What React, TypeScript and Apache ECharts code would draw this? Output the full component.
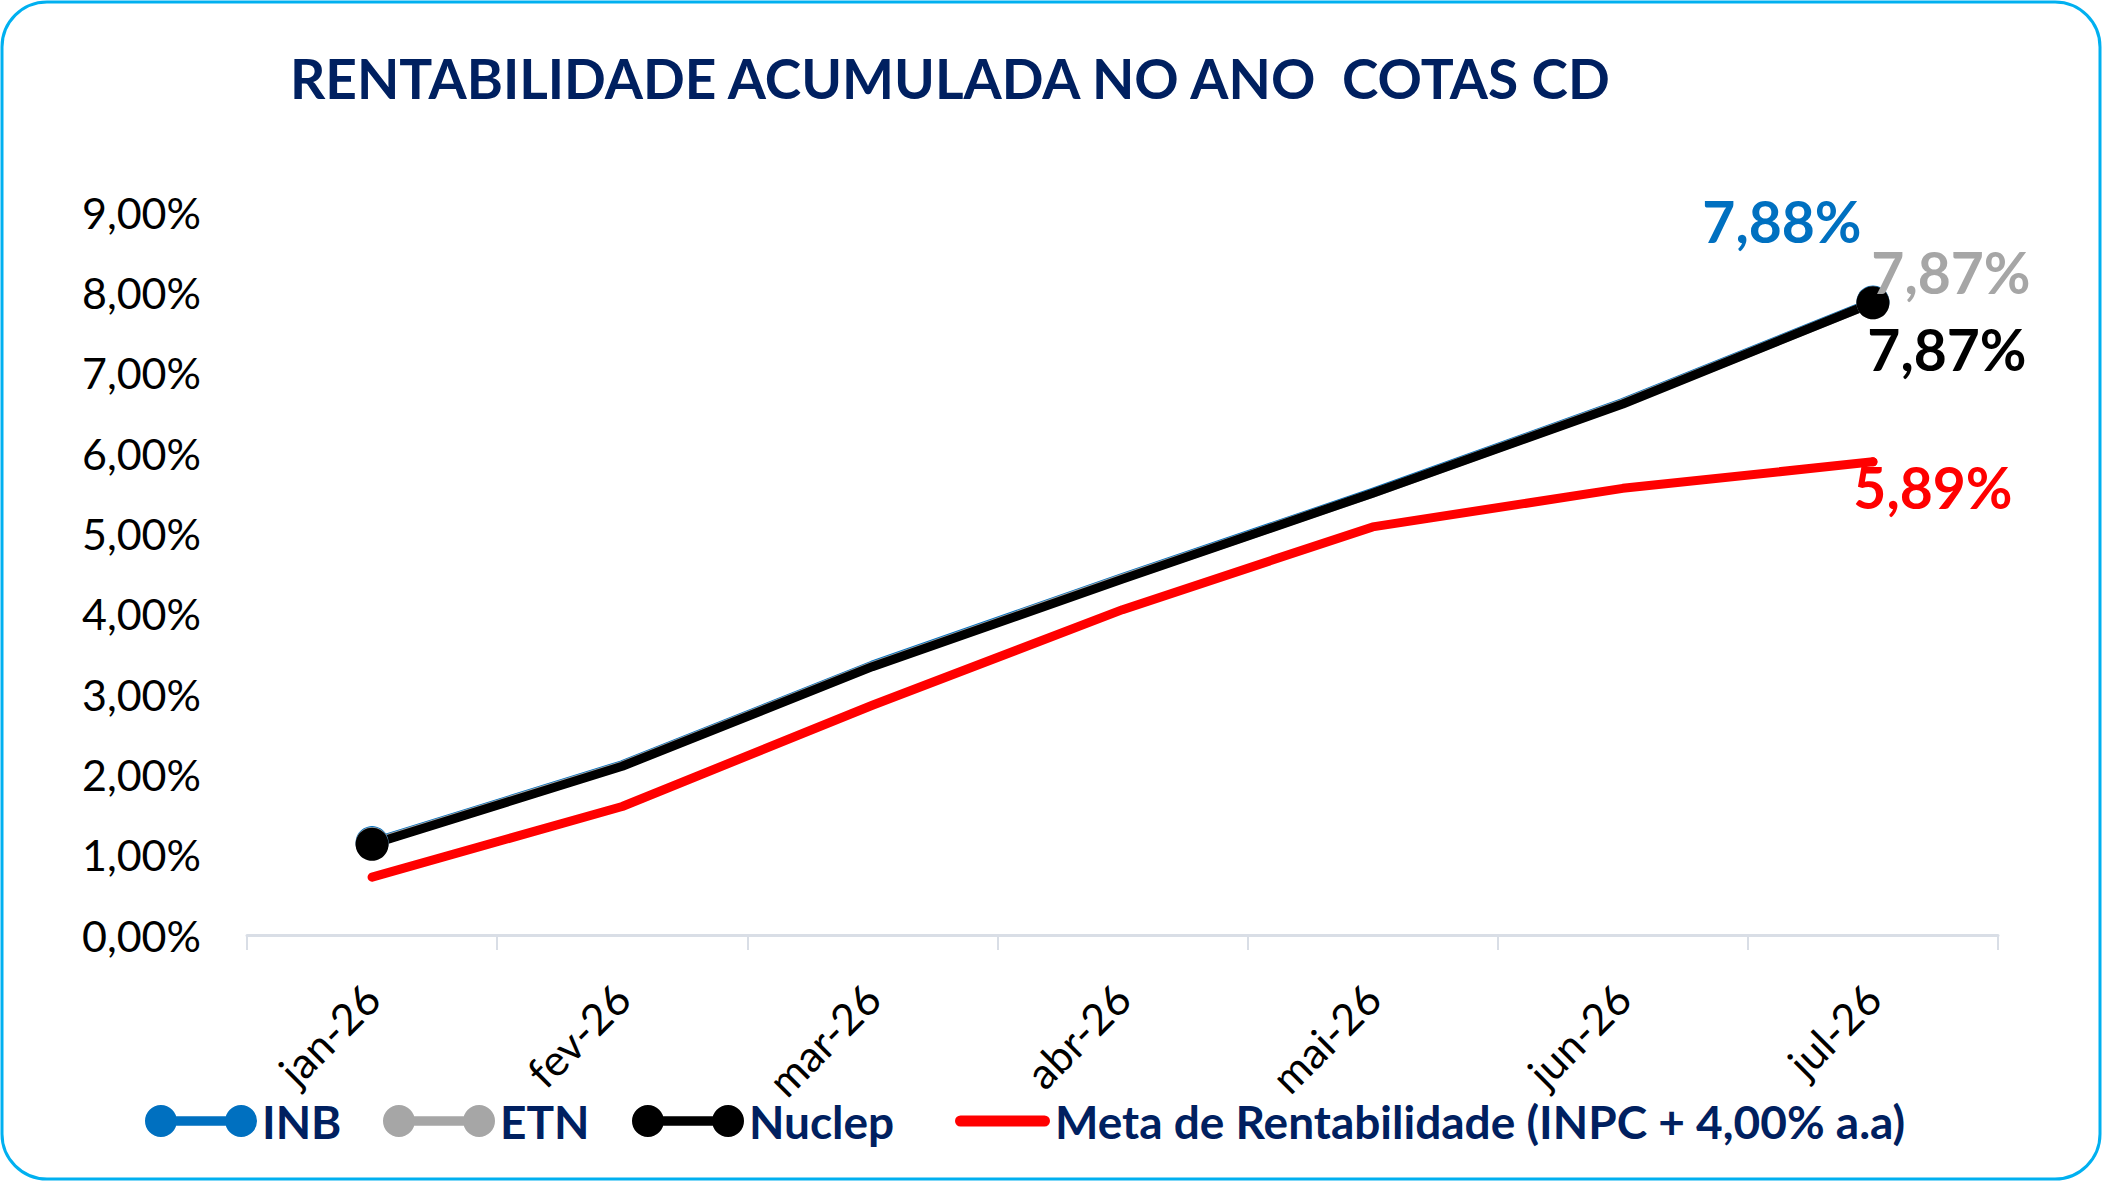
import React, { useEffect, useRef } from "react";
import * as echarts from "echarts";

const categories = ["jan-26", "fev-26", "mar-26", "abr-26", "mai-26", "jun-26", "jul-26"];
const inbValues = [1.15, 2.12, 3.36, 4.45, 5.51, 6.63, 7.88];
const etnValues = [1.14, 2.11, 3.35, 4.44, 5.5, 6.62, 7.87];
const nuclepValues = [1.13, 2.1, 3.34, 4.43, 5.5, 6.61, 7.87];
const metaValues = [0.72, 1.6, 2.86, 4.05, 5.08, 5.56, 5.89];
const yTicks = [0, 1, 2, 3, 4, 5, 6, 7, 8, 9];

const TITLE = "RENTABILIDADE ACUMULADA NO ANO  COTAS CD";
const NAVY = "#002060";
const FONT = "Lato, 'Open Sans', sans-serif";

const fmt = (v: number) => v.toFixed(2).replace(".", ",") + "%";

const DUMBBELL =
  "path://M0,16.5A16.5,16.5 0 1,1 33,16.5A16.5,16.5 0 1,1 0,16.5Z M83,16.5A16.5,16.5 0 1,1 116,16.5A16.5,16.5 0 1,1 83,16.5Z M16.5,11.5L99.5,11.5L99.5,21.5L16.5,21.5Z";
const BAR =
  "path://M5.5,0L89.5,0A5.5,5.5 0 0,1 89.5,11L5.5,11A5.5,5.5 0 0,1 5.5,0Z";

function endData(values: number[], color: string, offset: [number, number], size: number) {
  const last = values.length - 1;
  return values.map((v, i) => {
    const isEnd = i === 0 || i === last;
    const item: any = { value: v, symbol: isEnd ? "circle" : "none", symbolSize: size };
    if (i === last) {
      item.label = {
        show: true,
        position: "inside",
        offset,
        color,
        fontFamily: FONT,
        fontWeight: "bold",
        fontSize: 57,
        formatter: (p: any) => fmt(p.value),
      };
    }
    return item;
  });
}

function metaData(values: number[], color: string, offset: [number, number]) {
  const last = values.length - 1;
  return values.map((v, i) => {
    const item: any = { value: v, symbol: i === last ? "circle" : "none", symbolSize: 9 };
    if (i === last) {
      item.label = {
        show: true,
        position: "inside",
        offset,
        color,
        fontFamily: FONT,
        fontWeight: "bold",
        fontSize: 57,
        formatter: (p: any) => fmt(p.value),
      };
    }
    return item;
  });
}

function legendFor(name: string, left: number, icon: string, w: number, h: number, centerY: number) {
  return {
    data: [name],
    left,
    top: centerY - 23,
    padding: 0,
    icon,
    itemWidth: w,
    itemHeight: h,
    selectedMode: false,
    textStyle: { color: NAVY, fontFamily: FONT, fontWeight: "bold", fontSize: 46 },
  };
}

export default function App() {
  const ref = useRef<HTMLDivElement>(null);

  useEffect(() => {
    document.body.style.margin = "0";
    if (!ref.current) return;
    const chart = echarts.init(ref.current, undefined, { renderer: "svg" });
    const lineBase = (color: string) => ({
      type: "line",
      smooth: false,
      lineStyle: { color, width: 9, cap: "round", join: "round" },
      itemStyle: { color },
      emphasis: { disabled: true },
    });
    chart.setOption({
      animation: false,
      backgroundColor: "#ffffff",
      title: {
        text: TITLE,
        left: 290,
        top: 50,
        padding: 0,
        textStyle: { color: NAVY, fontFamily: FONT, fontWeight: "bold", fontSize: 55 },
      },
      graphic: [
        {
          type: "rect",
          shape: { x: 2, y: 2, width: 2098, height: 1177, r: 45 },
          style: { fill: "none", stroke: "#00B0F0", lineWidth: 3 },
          silent: true,
        },
      ],
      legend: [
        legendFor("INB", 145, DUMBBELL, 112, 32, 1121),
        legendFor("ETN", 383, DUMBBELL, 112, 32, 1121),
        legendFor("Nuclep", 632, DUMBBELL, 112, 32, 1121),
        legendFor("Meta de Rentabilidade (INPC + 4,00% a.a)", 955, BAR, 95, 11, 1121),
      ],
      grid: { left: 247, right: 105, top: 212, bottom: 247, containLabel: false },
      xAxis: {
        type: "category",
        data: categories,
        boundaryGap: true,
        axisLine: { show: true, lineStyle: { color: "#D9DEE6", width: 3 } },
        axisTick: { show: true, length: 15, interval: 0, lineStyle: { color: "#D9DEE6", width: 2 } },
        axisLabel: {
          rotate: 45,
          interval: 0,
          margin: 56,
          color: "#000000",
          fontFamily: FONT,
          fontSize: 43,
        },
        splitLine: { show: false },
      },
      yAxis: {
        type: "value",
        min: yTicks[0],
        max: yTicks[yTicks.length - 1],
        interval: 1,
        axisLine: { show: false },
        axisTick: { show: false },
        splitLine: { show: false },
        axisLabel: {
          margin: 46,
          color: "#000000",
          fontFamily: FONT,
          fontSize: 43,
          formatter: (v: number) => fmt(v),
        },
      },
      series: [
        { ...lineBase("#0070C0"), name: "INB", data: endData(inbValues, "#0070C0", [-91, -81], 33) },
        { ...lineBase("#A6A6A6"), name: "ETN", data: endData(etnValues, "#A6A6A6", [78, -31], 33) },
        { ...lineBase("#000000"), name: "Nuclep", data: endData(nuclepValues, "#000000", [74, 46], 33) },
        {
          ...lineBase("#FF0000"),
          name: "Meta de Rentabilidade (INPC + 4,00% a.a)",
          data: metaData(metaValues, "#FF0000", [60, 25]),
        },
      ],
    });
    return () => chart.dispose();
  }, []);

  return <div ref={ref} style={{ width: 2103, height: 1182 }} />;
}
